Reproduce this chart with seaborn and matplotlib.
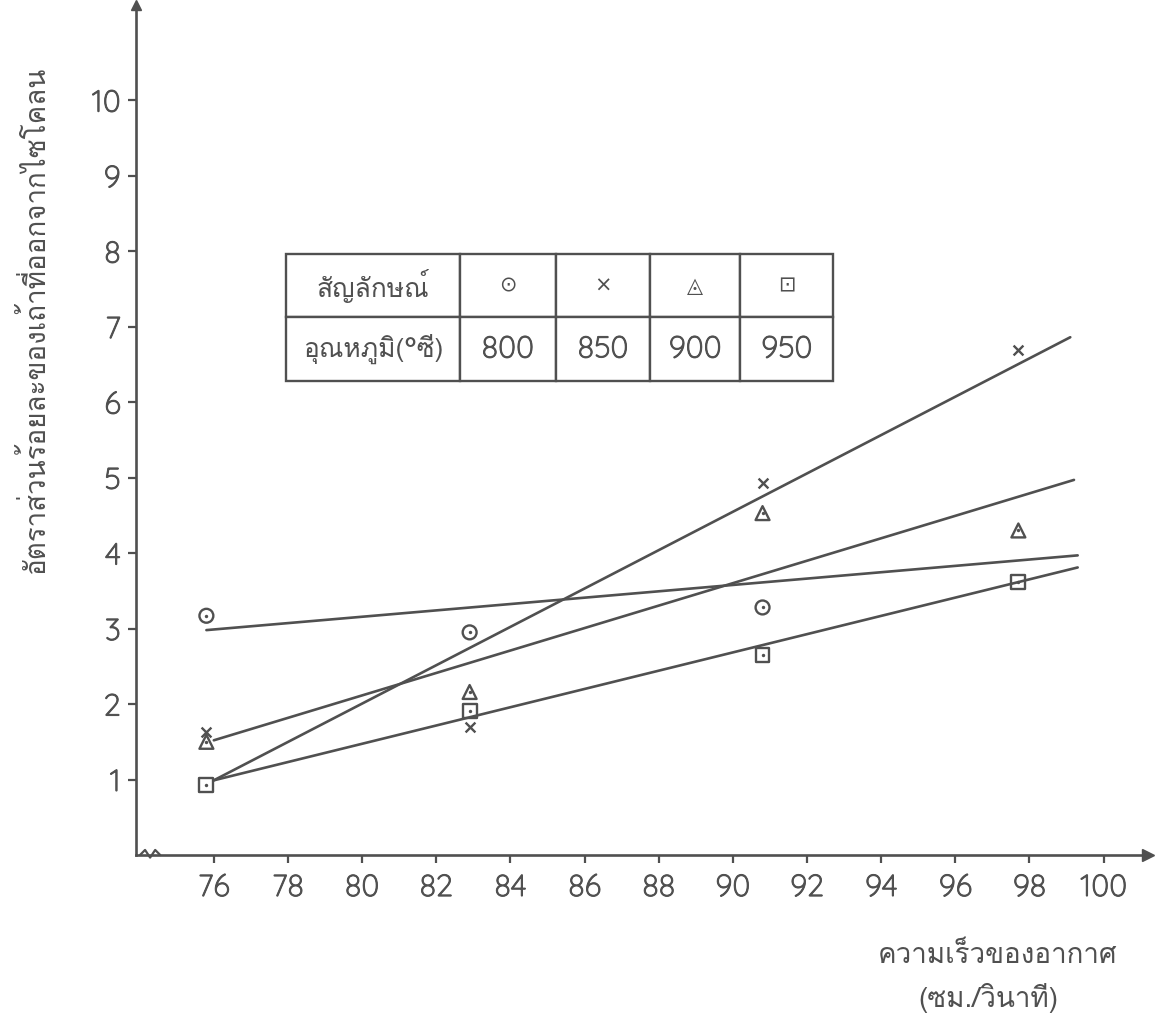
import matplotlib
matplotlib.use("Agg")
import matplotlib.pyplot as plt
from matplotlib import patheffects
import numpy as np
import pandas as pd
import seaborn as sns

# values
speed = [75.8, 82.9, 90.8, 97.7]
temps = [800, 850, 900, 950]
ash_800 = [3.17, 2.95, 3.28, np.nan]
ash_850 = [1.63, 1.70, 4.93, 6.69]
ash_900 = [1.50, 2.16, 4.53, 4.30]
ash_950 = [0.93, 1.91, 2.65, 3.62]

# hand drawn fit lines: start and end as they appear
fit_x0 = [75.8, 76.0, 76.0, 76.0]
fit_y0 = [2.98, 0.99, 1.52, 0.99]
fit_x1 = [99.3, 99.1, 99.2, 99.3]
fit_y1 = [3.97, 6.86, 4.97, 3.81]

x_ticks = list(range(76, 101, 2))
y_ticks = list(range(1, 11))

x_label = "ความเร็วของอากาศ"
x_unit = "(ซม./วินาที)"
y_label = "อัตราส่วนร้อยละของเถ้าที่ออกจากไซโคลน"
table_head = "สัญลักษณ์"
table_row = "อุณหภูมิ(°ซี)"
table_symbols = ["⊙", "×", "◬", "⊡"]

sns.set_style("ticks")
ink = "#505050"
thai = ["Loma", "Noto Sans Thai Looped", "DejaVu Sans"]
plt.rcParams["font.family"] = ["Quicksand", "DejaVu Sans"]
# quicksand is thin, fatten the digits a little like the stencil lettering
fat = [patheffects.withStroke(linewidth=0.7, foreground=ink)]

fig = plt.figure(figsize=(11.56, 10.24), dpi=100)
ax = fig.add_axes([0.1176, 0.165, 0.8756, 0.83])

fits = pd.DataFrame({"speed": fit_x0 + fit_x1,
                     "ash": fit_y0 + fit_y1,
                     "temp": temps * 2})
sns.lineplot(data=fits, x="speed", y="ash", units="temp", estimator=None,
             color=ink, lw=1.9, ax=ax)

marks = ["o", "x", "^", "s"]
for ys, m in zip([ash_800, ash_850, ash_900, ash_950], marks):
    if m == "x":
        sns.scatterplot(x=speed, y=ys, marker="x", s=50, color=ink,
                        linewidth=1.7, ax=ax)
    else:
        sns.scatterplot(x=speed, y=ys, marker=m, s=100, color=ink,
                        facecolor="none", edgecolor=ink, linewidth=1.7, ax=ax)
        sns.scatterplot(x=speed, y=ys, marker="o", s=6, color=ink,
                        linewidth=0, ax=ax)

ax.set_xlim(73.9, 101.2)
ax.set_ylim(0, 11.26)
ax.set_xticks(x_ticks)
ax.set_yticks(y_ticks)
ax.set_xlabel("")
ax.set_ylabel("")
ax.tick_params(axis="x", length=6, width=1.6, pad=7, labelsize=22,
               color=ink, labelcolor=ink)
ax.tick_params(axis="y", length=6, width=1.6, pad=5, labelsize=22,
               color=ink, labelcolor=ink)
for t in ax.xaxis.get_major_ticks() + ax.yaxis.get_major_ticks():
    t.label1.set_path_effects(fat)
sns.despine(ax=ax)
for s in ["left", "bottom"]:
    ax.spines[s].set_color(ink)
    ax.spines[s].set_linewidth(1.9)

# arrow heads and the axis break
ax.plot([1], [0], marker=">", ms=8, color=ink, transform=ax.transAxes,
        clip_on=False)
ax.plot([0], [1], marker="^", ms=7, color=ink, transform=ax.transAxes,
        clip_on=False)
ax.plot([0.004, 0.009, 0.014, 0.019, 0.024], [0, 0.006, -0.003, 0.006, 0],
        color=ink, lw=1.6, transform=ax.transAxes, clip_on=False)

ax.text(0.851, -0.118, x_label, transform=ax.transAxes, ha="center",
        va="center", fontsize=20, color=ink, family=thai)
ax.text(0.842, -0.168, x_unit, transform=ax.transAxes, ha="center",
        va="center", fontsize=20, color=ink, family=thai)
ax.text(-0.1, 0.63, y_label, transform=ax.transAxes, ha="center",
        va="center", rotation=90, fontsize=20, color=ink, family=thai)

cells = [[table_head] + table_symbols, [table_row] + [str(t) for t in temps]]
tbl = ax.table(cellText=cells, cellLoc="center",
               bbox=[0.148, 0.558, 0.541, 0.149],
               colWidths=[0.318, 0.176, 0.172, 0.165, 0.17])
tbl.auto_set_font_size(False)
for (r, c), cell in tbl.get_celld().items():
    cell.set_edgecolor(ink)
    cell.set_linewidth(1.7)
    txt = cell.get_text()
    txt.set_color(ink)
    if c == 0:
        txt.set_fontfamily(thai)
        txt.set_fontsize(19)
    elif r == 0:
        txt.set_fontfamily(["DejaVu Sans"])
        txt.set_fontsize(15)
    else:
        txt.set_fontsize(22)
        txt.set_path_effects(fat)

fig.savefig("out.png", dpi=100)
